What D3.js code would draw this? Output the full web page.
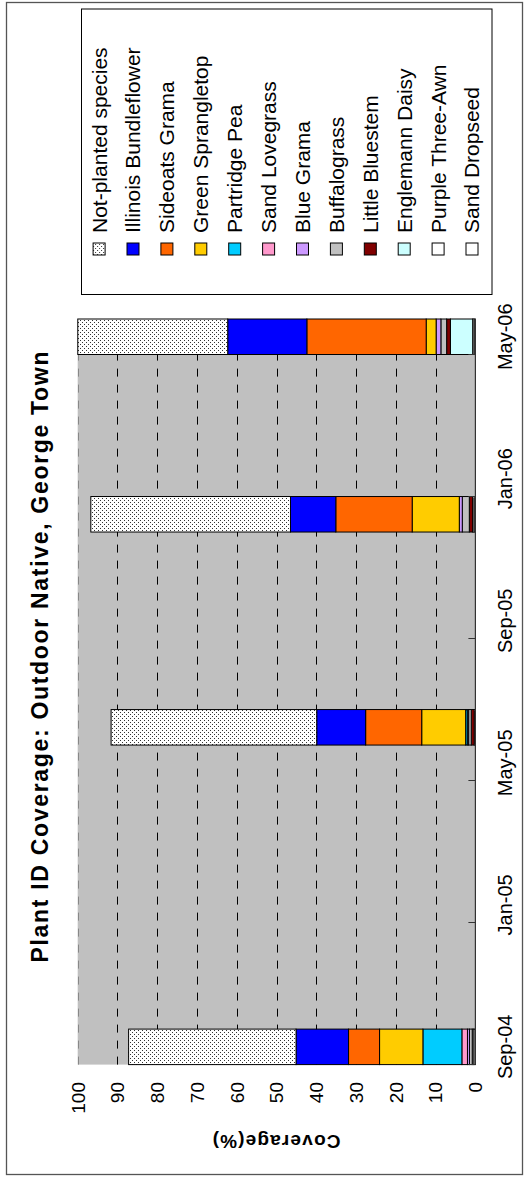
<!DOCTYPE html>
<html>
<head>
<meta charset="utf-8">
<script src="https://cdn.jsdelivr.net/npm/d3@7"></script>
<style>
  html, body { margin: 0; padding: 0; background: #fff; }
  svg { display: block; }
</style>
</head>
<body>
<div id="chart"></div>
<script>
// Monthly buckets of the time axis
const months = ["Sep-04","Oct-04","Nov-04","Dec-04","Jan-05","Feb-05","Mar-05","Apr-05",
  "May-05","Jun-05","Jul-05","Aug-05","Sep-05","Oct-05","Nov-05","Dec-05",
  "Jan-06","Feb-06","Mar-06","Apr-06","May-06"];
const tickMonths = ["Sep-04","Jan-05","May-05","Sep-05","Jan-06","May-06"];
const sampleMonths = ["Sep-04","Jun-05","Dec-05","May-06"];
const valueTicks = [0,10,20,30,40,50,60,70,80,90,100];

// Species, in legend order (top of stack first)
const species = ["Not-planted species","Illinois Bundleflower","Sideoats Grama","Green Sprangletop",
  "Partridge Pea","Sand Lovegrass","Blue Grama","Buffalograss","Little Bluestem",
  "Englemann Daisy","Purple Three-Awn","Sand Dropseed"];

// Coverage (%) per sample date
const notPlanted          = [42.1, 51.7, 50.2, 37.7];
const illinoisBundleflower= [13.2, 12.3, 11.4, 19.9];
const sideoatsGrama       = [7.8, 14.1, 19.2, 30.0];
const greenSprangletop    = [10.9, 11.05, 11.85, 2.5];
const partridgePea        = [9.8, 0.4, 0, 0];
const sandLovegrass       = [1.4, 0, 0, 0];
const blueGrama           = [0.5, 0.35, 0.75, 1.2];
const buffalograss        = [0.7, 0.65, 1.77, 1.45];
const littleBluestem      = [0, 0.75, 0.85, 0.95];
const englemannDaisy      = [0, 0, 0, 5.6];
const purpleThreeAwn      = [0.4, 0, 0.33, 0.33];
const sandDropseed        = [0.4, 0.3, 0.35, 0.35];

const seriesValues = [notPlanted, illinoisBundleflower, sideoatsGrama, greenSprangletop,
  partridgePea, sandLovegrass, blueGrama, buffalograss, littleBluestem,
  englemannDaisy, purpleThreeAwn, sandDropseed];

const speciesColors = ["url(#dots)","#0000FF","#FF6600","#FFCC00","#00CCFF","#FF99CC",
  "#CC99FF","#C0C0C0","#800000","#CCFFFF","#FFFFFF","#FFFFFF"];

const rows = sampleMonths.map((m, i) => {
  const r = { month: m };
  species.forEach((s, k) => { r[s] = seriesValues[k][i]; });
  return r;
});
const colorOf = d3.scaleOrdinal().domain(species).range(speciesColors);

// Chart is laid out landscape (1177 x 525) and turned a quarter turn onto the page
const FW = 1177, FH = 525;
const font = "'Liberation Sans', Arial, Helvetica, sans-serif";

const svg = d3.select("#chart").append("svg")
  .attr("width", FH).attr("height", FW);

const defs = svg.append("defs");
const pat = defs.append("pattern").attr("id", "dots")
  .attr("patternUnits", "userSpaceOnUse").attr("width", 4).attr("height", 4);
pat.append("rect").attr("width", 4).attr("height", 4).attr("fill", "#fff");
pat.append("rect").attr("x", 0).attr("y", 0).attr("width", 1).attr("height", 1).attr("fill", "#333");
pat.append("rect").attr("x", 2).attr("y", 2).attr("width", 1).attr("height", 1).attr("fill", "#333");

svg.append("rect").attr("width", FH).attr("height", FW).attr("fill", "#fff");

const frame = svg.append("g").attr("transform", `translate(0,${FW}) rotate(-90)`);

// chart border
frame.append("rect")
  .attr("x", 2.5).attr("y", 6.5).attr("width", 1172).attr("height", 516)
  .attr("fill", "none").attr("stroke", "#555").attr("stroke-width", 1.3);

const plot = { left: 112.4, right: 858, top: 77.7, bottom: 475.4 };

const x = d3.scaleBand().domain(months).range([plot.left, plot.right]).padding(0);
const y = d3.scaleLinear().domain([0, 100]).range([plot.bottom, plot.top]);

// plot area
frame.append("rect")
  .attr("x", plot.left).attr("y", plot.top)
  .attr("width", plot.right - plot.left).attr("height", plot.bottom - plot.top)
  .attr("fill", "#C0C0C0");

// dashed gridlines
frame.append("g").selectAll("line")
  .data(valueTicks.filter(v => v > 0))
  .join("line")
  .attr("x1", plot.left).attr("x2", plot.right)
  .attr("y1", v => Math.round(y(v)) + 0.5).attr("y2", v => Math.round(y(v)) + 0.5)
  .attr("stroke", v => v === 100 ? "#888" : "#000")
  .attr("stroke-width", 1)
  .attr("stroke-dasharray", "8,8");

// stacked bars
const stackKeys = species.slice().reverse();
const stacked = d3.stack().keys(stackKeys)(rows);

frame.append("g").selectAll("g")
  .data(stacked)
  .join("g")
  .attr("fill", s => colorOf(s.key))
  .selectAll("rect")
  .data(s => s.filter(d => d[1] - d[0] > 0))
  .join("rect")
  .attr("x", d => x(d.data.month))
  .attr("width", x.bandwidth())
  .attr("y", d => y(d[1]))
  .attr("height", d => y(d[0]) - y(d[1]))
  .attr("stroke", "#000")
  .attr("stroke-width", 1);

// category axis
const xAxis = frame.append("g");
xAxis.append("line")
  .attr("x1", plot.left).attr("x2", plot.right)
  .attr("y1", plot.bottom).attr("y2", plot.bottom)
  .attr("stroke", "#333").attr("stroke-width", 1.2);
xAxis.selectAll("line.tick")
  .data(tickMonths)
  .join("line").attr("class", "tick")
  .attr("x1", m => Math.round(x(m)) + 0.5).attr("x2", m => Math.round(x(m)) + 0.5)
  .attr("y1", plot.bottom).attr("y2", plot.bottom - 7)
  .attr("stroke", "#333").attr("stroke-width", 1);
xAxis.selectAll("text")
  .data(tickMonths)
  .join("text")
  .attr("x", m => x(m) + x.bandwidth() / 2)
  .attr("y", 511.8)
  .attr("text-anchor", "middle")
  .attr("font-family", font).attr("font-size", 20)
  .attr("fill", "#000")
  .text(m => m);

// value axis labels
frame.append("g").selectAll("text")
  .data(valueTicks)
  .join("text")
  .attr("x", 95)
  .attr("y", v => y(v) + 6.8)
  .attr("text-anchor", "end")
  .attr("font-family", font).attr("font-size", 19)
  .attr("fill", "#000")
  .text(v => v);

// value axis title
frame.append("text")
  .attr("transform", `translate(42,${(plot.top + plot.bottom) / 2}) rotate(-90)`)
  .attr("text-anchor", "middle")
  .attr("font-family", font).attr("font-size", 19).attr("font-weight", "bold")
  .attr("textLength", 128).attr("lengthAdjust", "spacing")
  .text("Coverage(%)");

// chart title
frame.append("text")
  .attr("x", 520).attr("y", 48)
  .attr("text-anchor", "middle")
  .attr("font-family", font).attr("font-size", 23).attr("font-weight", "bold")
  .attr("textLength", 611).attr("lengthAdjust", "spacing")
  .text("Plant ID Coverage: Outdoor Native, George Town");

// legend
const legend = frame.append("g");
legend.append("rect")
  .attr("x", 882.5).attr("y", 81.5).attr("width", 285.5).attr("height", 410.5)
  .attr("fill", "#fff").attr("stroke", "#000").attr("stroke-width", 1);
const legendY = d3.scalePoint().domain(species).range([99.1, 472]);
const items = legend.selectAll("g.item")
  .data(species)
  .join("g").attr("class", "item")
  .attr("transform", s => `translate(0,${legendY(s)})`);
items.append("rect")
  .attr("x", 922).attr("y", -6).attr("width", 12).attr("height", 12)
  .attr("fill", s => colorOf(s))
  .attr("stroke", "#000").attr("stroke-width", 1);
items.append("text")
  .attr("x", 944).attr("y", 7.4)
  .attr("font-family", font).attr("font-size", 21)
  .attr("fill", "#000")
  .text(s => s);
</script>
</body>
</html>
